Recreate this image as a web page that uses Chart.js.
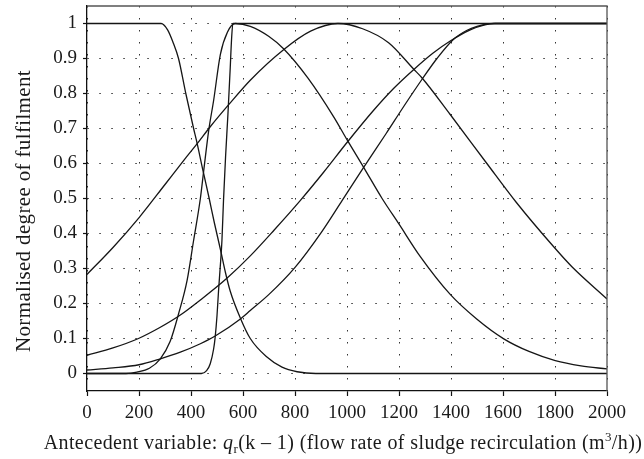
<!DOCTYPE html>
<html>
<head>
<meta charset="utf-8">
<script src="https://cdn.jsdelivr.net/npm/chart.js@4"></script>
<style>
  html, body { margin: 0; padding: 0; background: #fff; }
  #chart { display: block; }
</style>
</head>
<body>
<canvas id="chart" width="644" height="459"></canvas>
<script>
// Valores (x em m3/h, y = grau de pertinência)
const zShapeX = [0, 285, 310, 330, 352, 380, 410, 421, 446, 470, 490, 513, 532, 551, 590, 628, 692, 750, 808, 880, 2000];
const zShapeY = [1, 1, 0.982, 0.948, 0.9, 0.8, 0.7, 0.666, 0.58, 0.5, 0.43, 0.355, 0.29, 0.235, 0.158, 0.1, 0.047, 0.018, 0.005, 0, 0];

const stepX = [0, 440, 460, 474, 487, 493, 500, 506, 512, 519, 525, 533, 542, 551, 556, 561, 2000];
const stepY = [0, 0, 0.008, 0.028, 0.07, 0.104, 0.165, 0.237, 0.3, 0.38, 0.494, 0.62, 0.74, 0.875, 0.955, 1, 1];

const bellLowX = [0, 150, 192, 240, 282, 320, 352, 385, 410, 436, 449, 468, 487, 513, 540, 570, 628, 700, 756, 850, 950, 1000, 1064, 1135, 1199, 1282, 1397, 1500, 1603, 1700, 1801, 1900, 2000];
const bellLowY = [0, 0, 0.004, 0.015, 0.042, 0.092, 0.17, 0.266, 0.38, 0.5, 0.58, 0.694, 0.78, 0.912, 0.975, 1, 0.992, 0.963, 0.928, 0.844, 0.732, 0.668, 0.589, 0.5, 0.428, 0.334, 0.226, 0.155, 0.099, 0.063, 0.037, 0.022, 0.013];

const bellMidX = [0, 100, 202, 300, 382, 423, 474, 545, 628, 756, 860, 965, 1060, 1160, 1256, 1288, 1397, 1538, 1650, 1795, 1865, 2000];
const bellMidY = [0.283, 0.36, 0.447, 0.54, 0.618, 0.656, 0.705, 0.768, 0.838, 0.925, 0.978, 1, 0.985, 0.945, 0.87, 0.845, 0.74, 0.6, 0.49, 0.362, 0.305, 0.213];

const riseUpperX = [0, 100, 198, 282, 359, 436, 538, 628, 720, 820, 910, 1000, 1100, 1180, 1256, 1330, 1397, 1474, 1530, 1565, 2000];
const riseUpperY = [0.052, 0.073, 0.1, 0.132, 0.167, 0.21, 0.272, 0.336, 0.41, 0.494, 0.575, 0.66, 0.75, 0.815, 0.868, 0.915, 0.95, 0.982, 0.996, 1, 1];

const riseLowerX = [0, 100, 200, 282, 359, 436, 493, 590, 628, 700, 801, 900, 981, 1064, 1150, 1220, 1288, 1346, 1410, 1460, 1500, 1545, 1570, 2000];
const riseLowerY = [0.01, 0.016, 0.025, 0.042, 0.061, 0.085, 0.107, 0.156, 0.18, 0.226, 0.304, 0.402, 0.494, 0.589, 0.685, 0.765, 0.84, 0.9, 0.955, 0.98, 0.992, 0.999, 1, 1];

const xTicks = [0, 200, 400, 600, 800, 1000, 1200, 1400, 1600, 1800, 2000];
const yTicks = [0, 0.1, 0.2, 0.3, 0.4, 0.5, 0.6, 0.7, 0.8, 0.9, 1];

const yTitle = 'Normalised degree of fulfilment';
const serif = '"Liberation Serif", "Times New Roman", serif';

function pairs(xs, ys) {
    return xs.map((x, i) => ({ x: x, y: ys[i] }));
}

function curve(xs, ys) {
    return {
        data: pairs(xs, ys),
        showLine: true,
        borderColor: '#151515',
        borderWidth: 1.3,
        pointRadius: 0,
        fill: false,
        cubicInterpolationMode: 'monotone'
    };
}

// Desenha texto com trechos de fontes diferentes (itálico, índice, expoente)
function drawRuns(ctx, runs, cx, baseline) {
    let total = 0;
    runs.forEach(r => { ctx.font = r.font; total += ctx.measureText(r.text).width; });
    let x = cx - total / 2;
    runs.forEach(r => {
        ctx.font = r.font;
        ctx.fillText(r.text, x, baseline + (r.dy || 0));
        x += ctx.measureText(r.text).width;
    });
}

const decorPlugin = {
    id: 'decor',
    afterDraw(chart) {
        const { ctx, chartArea: a } = chart;
        ctx.save();
        // moldura superior e direita
        ctx.strokeStyle = '#555';
        ctx.lineWidth = 1.3;
        ctx.beginPath();
        ctx.moveTo(a.left, a.top);
        ctx.lineTo(a.right, a.top);
        ctx.lineTo(a.right, a.bottom);
        ctx.stroke();

        ctx.fillStyle = '#1a1a1a';
        ctx.textAlign = 'left';
        ctx.textBaseline = 'alphabetic';
        ctx.letterSpacing = '0.4px';
        const n = '20px ' + serif;
        drawRuns(ctx, [
            { text: 'Antecedent variable: ', font: n },
            { text: 'q', font: 'italic 20px ' + serif },
            { text: 'r', font: '13px ' + serif, dy: 4 },
            { text: '(k \u2013 1) (flow rate of sludge recirculation (m', font: n },
            { text: '3', font: '13px ' + serif, dy: -8 },
            { text: '/h))', font: n }
        ], 343, 449);

        // título do eixo y
        ctx.letterSpacing = '0.35px';
        ctx.translate(30, 211);
        ctx.rotate(-Math.PI / 2);
        ctx.font = '21px ' + serif;
        ctx.textAlign = 'center';
        ctx.fillText(yTitle, 0, 0);
        ctx.restore();
    }
};

const tickFont = { family: serif, size: 19 };

new Chart(document.getElementById('chart'), {
    type: 'scatter',
    data: {
        datasets: [
            curve(zShapeX, zShapeY),
            curve(stepX, stepY),
            curve(bellLowX, bellLowY),
            curve(bellMidX, bellMidY),
            curve(riseUpperX, riseUpperY),
            curve(riseLowerX, riseLowerY)
        ]
    },
    options: {
        responsive: false,
        animation: false,
        devicePixelRatio: 1,
        layout: { padding: { top: 6, right: 37, left: 0, bottom: 0 } },
        plugins: {
            legend: { display: false },
            tooltip: { enabled: false }
        },
        scales: {
            x: {
                type: 'linear',
                min: 0,
                max: 2000,
                afterBuildTicks: s => { s.ticks = xTicks.map(v => ({ value: v })); },
                afterFit: s => { s.height = 68; s.paddingLeft = 0; s.paddingRight = 0; },
                ticks: {
                    autoSkip: false,
                    maxRotation: 0,
                    padding: 6,
                    color: '#1a1a1a',
                    font: tickFont,
                    callback: v => String(v)
                },
                grid: {
                    color: '#333',
                    lineWidth: 1,
                    tickLength: 5,
                    tickColor: '#111',
                    tickWidth: 1.2
                },
                border: { display: true, color: '#111', width: 1.3, dash: [1.5, 10.5] }
            },
            y: {
                type: 'linear',
                min: -0.05,
                max: 1.05,
                afterBuildTicks: s => { s.ticks = yTicks.map(v => ({ value: v })); },
                afterFit: s => { s.width = 87; s.paddingTop = 0; s.paddingBottom = 0; },
                ticks: {
                    padding: 6,
                    color: '#1a1a1a',
                    font: tickFont,
                    callback: v => String(Math.round(v * 10) / 10)
                },
                grid: {
                    color: '#333',
                    lineWidth: 1,
                    tickLength: 4,
                    tickColor: '#111',
                    tickWidth: 1.2
                },
                border: { display: true, color: '#111', width: 1.3, dash: [1.5, 10.5] }
            }
        }
    },
    plugins: [decorPlugin]
});
</script>
</body>
</html>
